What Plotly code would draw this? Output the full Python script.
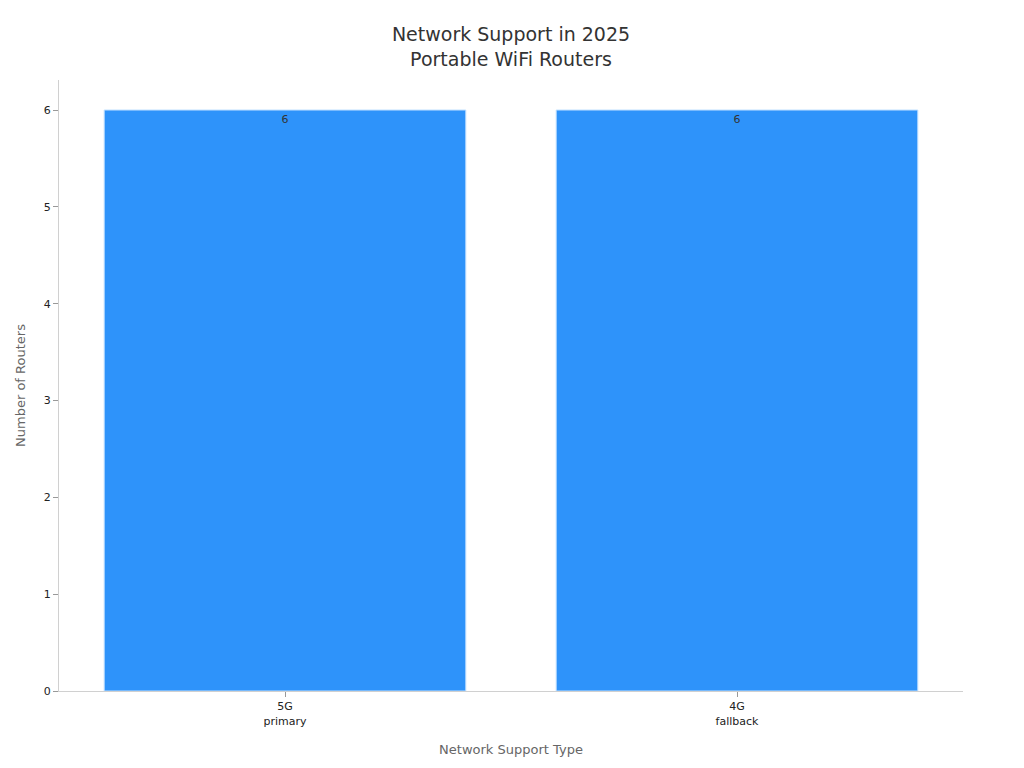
import plotly.graph_objects as go

# Chart data
categories = ["5G<br>primary", "4G<br>fallback"]
router_counts = [6, 6]

fig = go.Figure(
    go.Bar(
        x=categories,
        y=router_counts,
        text=router_counts,
        textposition="inside",
        insidetextanchor="end",
        textfont=dict(size=11, color="#333333"),
        marker=dict(color="#2E93FA", line=dict(color="#BFDFFF", width=1)),
    )
)

fig.update_layout(
    width=1024,
    height=768,
    font=dict(family="DejaVu Sans", size=11, color="#222222"),
    title=dict(
        text="Network Support in 2025<br>Portable WiFi Routers",
        xref="paper",
        x=0.5,
        xanchor="center",
        y=0.957,
        font=dict(size=19, color="#333333"),
    ),
    plot_bgcolor="white",
    paper_bgcolor="white",
    margin=dict(l=51, r=69, t=72, b=85),
    bargap=0.2,
    showlegend=False,
)

fig.update_xaxes(
    title=dict(text="Network Support Type", font=dict(size=13, color="#666666"), standoff=18),
    showline=True,
    linecolor="#D0D0D0",
    ticks="outside",
    ticklen=5,
    tickcolor="#999999",
    showgrid=False,
)
fig.update_yaxes(
    title=dict(text="Number of Routers", font=dict(size=13, color="#666666")),
    range=[0, 6.31],
    dtick=1,
    showline=True,
    linecolor="#D0D0D0",
    ticks="outside",
    ticklen=5,
    tickcolor="#999999",
    showgrid=False,
    zeroline=False,
)

fig.write_html("out.html")
